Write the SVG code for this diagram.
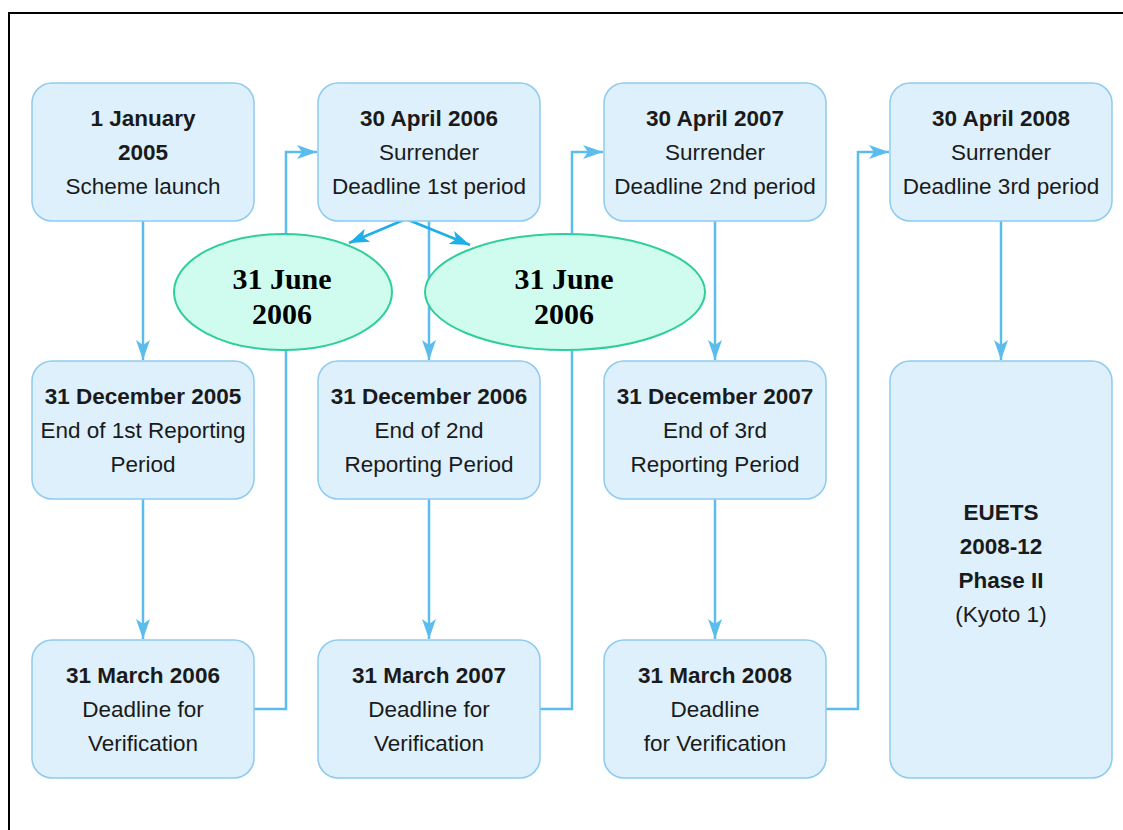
<svg xmlns="http://www.w3.org/2000/svg" width="1123" height="830" viewBox="0 0 1123 830">
<style>
.box{fill:#ddf0fc;stroke:#8ecbef;stroke-width:1.5}
.ell{fill:#cffcef;stroke:#2fcf98;stroke-width:2}
.t{font-family:"Liberation Sans",Arial,sans-serif;font-size:22.5px;fill:#1a1a1a;text-anchor:middle}
.b{font-weight:bold}
.e{font-family:"Liberation Serif","Times New Roman",serif;font-size:30px;font-weight:bold;fill:#000;text-anchor:middle}
.c{fill:none;stroke:#5cbdec;stroke-width:2.5}
.d{fill:none;stroke:#1eaee8;stroke-width:2.5}
</style>
<defs>
<marker id="ah" markerUnits="userSpaceOnUse" markerWidth="22" markerHeight="14" refX="20" refY="7" orient="auto">
<path d="M0,0 L20,7 L0,14 L5,7 Z" fill="#5cbdec"/>
</marker>
<marker id="ad" markerUnits="userSpaceOnUse" markerWidth="22" markerHeight="14" refX="20" refY="7" orient="auto">
<path d="M0,0 L20,7 L0,14 L5,7 Z" fill="#1eaee8"/>
</marker>
</defs>
<rect x="0" y="0" width="1123" height="830" fill="#fff"/>
<rect x="9" y="13" width="1140" height="840" fill="none" stroke="#000" stroke-width="2"/>
<g id="connectors">
<path class="c" d="M143,221 V360" marker-end="url(#ah)"/>
<path class="c" d="M429,221 V360" marker-end="url(#ah)"/>
<path class="c" d="M715,221 V360" marker-end="url(#ah)"/>
<path class="c" d="M1001,221 V360" marker-end="url(#ah)"/>
<path class="c" d="M143,499 V639" marker-end="url(#ah)"/>
<path class="c" d="M429,499 V639" marker-end="url(#ah)"/>
<path class="c" d="M715,499 V639" marker-end="url(#ah)"/>
<path class="c" d="M254,709 H286 V152 H317" marker-end="url(#ah)"/>
<path class="c" d="M540,709 H572 V152 H603" marker-end="url(#ah)"/>
<path class="c" d="M826,709 H858 V152 H889" marker-end="url(#ah)"/>
<path class="d" d="M406,219 L349,243" marker-end="url(#ad)"/>
<path class="d" d="M406,219 L470,245" marker-end="url(#ad)"/>
</g>
<g id="n1"><rect class="box" x="32" y="83" width="222" height="138" rx="20"/>
<text class="t b" x="143" y="126">1 January</text><text class="t b" x="143" y="160">2005</text><text class="t" x="143" y="194">Scheme launch</text></g>
<g id="n2"><rect class="box" x="318" y="83" width="222" height="138" rx="20"/>
<text class="t b" x="429" y="126">30 April 2006</text><text class="t" x="429" y="160">Surrender</text><text class="t" x="429" y="194">Deadline 1st period</text></g>
<g id="n3"><rect class="box" x="604" y="83" width="222" height="138" rx="20"/>
<text class="t b" x="715" y="126">30 April 2007</text><text class="t" x="715" y="160">Surrender</text><text class="t" x="715" y="194">Deadline 2nd period</text></g>
<g id="n4"><rect class="box" x="890" y="83" width="222" height="138" rx="20"/>
<text class="t b" x="1001" y="126">30 April 2008</text><text class="t" x="1001" y="160">Surrender</text><text class="t" x="1001" y="194">Deadline 3rd period</text></g>
<g id="n5"><rect class="box" x="32" y="361" width="222" height="138" rx="20"/>
<text class="t b" x="143" y="404">31 December 2005</text><text class="t" x="143" y="438">End of 1st Reporting</text><text class="t" x="143" y="472">Period</text></g>
<g id="n6"><rect class="box" x="318" y="361" width="222" height="138" rx="20"/>
<text class="t b" x="429" y="404">31 December 2006</text><text class="t" x="429" y="438">End of 2nd</text><text class="t" x="429" y="472">Reporting Period</text></g>
<g id="n7"><rect class="box" x="604" y="361" width="222" height="138" rx="20"/>
<text class="t b" x="715" y="404">31 December 2007</text><text class="t" x="715" y="438">End of 3rd</text><text class="t" x="715" y="472">Reporting Period</text></g>
<g id="n8"><rect class="box" x="890" y="361" width="222" height="417" rx="20"/>
<text class="t b" x="1001" y="520">EUETS</text><text class="t b" x="1001" y="554">2008-12</text><text class="t b" x="1001" y="588">Phase II</text><text class="t" x="1001" y="622">(Kyoto 1)</text></g>
<g id="n9"><rect class="box" x="32" y="640" width="222" height="138" rx="20"/>
<text class="t b" x="143" y="683">31 March 2006</text><text class="t" x="143" y="717">Deadline for</text><text class="t" x="143" y="751">Verification</text></g>
<g id="n10"><rect class="box" x="318" y="640" width="222" height="138" rx="20"/>
<text class="t b" x="429" y="683">31 March 2007</text><text class="t" x="429" y="717">Deadline for</text><text class="t" x="429" y="751">Verification</text></g>
<g id="n11"><rect class="box" x="604" y="640" width="222" height="138" rx="20"/>
<text class="t b" x="715" y="683">31 March 2008</text><text class="t" x="715" y="717">Deadline</text><text class="t" x="715" y="751">for Verification</text></g>
<g id="e1"><ellipse class="ell" cx="283" cy="292" rx="109" ry="58"/>
<text class="e" x="282" y="289">31 June</text><text class="e" x="282" y="324">2006</text></g>
<g id="e2"><ellipse class="ell" cx="565" cy="292" rx="140" ry="58"/>
<text class="e" x="564" y="289">31 June</text><text class="e" x="564" y="324">2006</text></g>
</svg>
